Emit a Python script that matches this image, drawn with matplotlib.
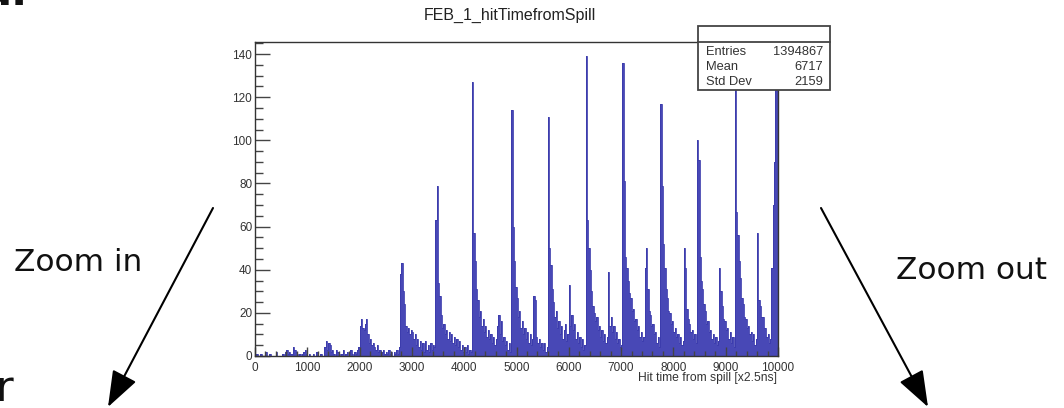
import matplotlib
matplotlib.use("Agg")
import matplotlib.pyplot as plt
import numpy as np
from matplotlib.patches import Rectangle, FancyArrowPatch
from matplotlib.lines import Line2D
from matplotlib.ticker import MultipleLocator

# ---------------- data ----------------
x_min, x_max = 0, 10000          # hit time range [x2.5ns]
title = "FEB_1_hitTimefromSpill"
x_title = "Hit time from spill [x2.5ns]"
stat_names = ["Entries", "Mean", "Std Dev"]
stat_values = ["1394867", "6717", "2159"]

# bin contents, 20 bins of width 25 per row (each row = 500 units)
counts_0000 = [0,1,0,0,1,0,0,0,2,0,0,1,0,0,0,0,2,0,0,0]
counts_0500 = [0,1,0,2,3,1,2,1,1,4,3,2,1,0,1,0,1,2,3,1]
counts_1000 = [0,1,0,0,1,0,0,2,0,0,1,0,0,4,7,3,6,5,2,3]
counts_1500 = [1,0,3,2,1,0,1,3,0,1,2,0,1,3,1,0,2,1,3,4]
counts_2000 = [14,17,13,12,15,17,10,6,8,5,6,4,3,5,2,3,1,2,3,1]
counts_2500 = [2,1,3,1,2,0,2,1,3,1,4,38,43,30,24,14,11,13,10,12]
counts_3000 = [11,8,10,5,8,4,7,3,6,2,7,3,5,2,6,3,5,4,63,79]
counts_3500 = [34,28,19,13,15,10,12,8,11,7,10,6,9,5,8,4,7,3,5,2]
counts_4000 = [4,2,5,1,3,2,127,57,44,31,26,18,21,14,17,11,14,9,12,8]
counts_4500 = [10,6,9,5,8,14,19,10,16,7,9,5,7,3,6,2,114,60,44,32]
counts_5000 = [27,18,21,13,16,10,13,8,11,6,10,5,8,28,26,9,6,8,4,6]
counts_5500 = [3,6,2,4,111,50,42,31,25,18,21,13,16,10,14,8,12,15,7,10]
counts_6000 = [33,14,19,12,15,8,11,6,9,4,8,3,5,139,63,50,40,30,23,20]
counts_6500 = [16,18,12,14,9,12,7,10,6,9,39,14,18,11,14,8,11,6,8,4]
counts_7000 = [5,136,81,46,41,35,29,27,21,22,16,17,12,14,9,11,7,9,41,50]
counts_7500 = [31,21,19,14,15,10,11,6,9,4,117,79,52,41,31,27,21,20,15,16]
counts_8000 = [11,13,9,10,6,9,5,7,50,41,22,17,15,11,12,8,10,6,100,91]
counts_8500 = [46,35,31,24,21,15,16,11,12,8,10,6,9,5,7,41,30,23,17,16]
counts_9000 = [12,13,8,11,6,9,4,130,67,56,44,36,27,24,18,17,13,14,10,11]
counts_9500 = [7,10,5,8,57,26,23,18,18,13,13,9,10,6,8,41,70,90,145,130]

counts = np.array(counts_0000 + counts_0500 + counts_1000 + counts_1500 +
                  counts_2000 + counts_2500 + counts_3000 + counts_3500 +
                  counts_4000 + counts_4500 + counts_5000 + counts_5500 +
                  counts_6000 + counts_6500 + counts_7000 + counts_7500 +
                  counts_8000 + counts_8500 + counts_9000 + counts_9500, float)
edges = np.linspace(x_min, x_max, len(counts) + 1)

# ---------------- figure ----------------
plt.rcParams["font.family"] = ["Liberation Sans", "DejaVu Sans"]
W, H = 1064, 408
fig = plt.figure(figsize=(W / 100, H / 100), dpi=100)

def fx(x):
    return x / W

def fy(y):
    return 1 - y / H

L, R, T, B = 255, 778, 42, 356
ax = fig.add_axes([fx(L), fy(B), (R - L) / W, (B - T) / H])

ax.stairs(counts, edges, fill=True, color="#4848b6", linewidth=0)
ax.stairs(counts, edges, color="#3a3aac", linewidth=0.6)

ax.set_xlim(x_min, x_max)
ax.set_ylim(0, 145.6)
ax.xaxis.set_major_locator(MultipleLocator(1000))
ax.xaxis.set_minor_locator(MultipleLocator(200))
ax.yaxis.set_major_locator(MultipleLocator(20))
ax.yaxis.set_minor_locator(MultipleLocator(5))
ax.tick_params(axis="y", which="major", direction="in", length=10.8, width=1.0,
               pad=2, labelsize=8.5, color="#444444", labelcolor="#333333")
ax.tick_params(axis="y", which="minor", direction="in", length=5.4, width=1.0,
               color="#444444")
ax.tick_params(axis="x", which="major", direction="in", length=6.5, width=1.0,
               pad=4, labelsize=8.5, color="#444444", labelcolor="#333333")
ax.tick_params(axis="x", which="minor", direction="in", length=3.3, width=1.0,
               color="#444444")
for s in ax.spines.values():
    s.set_color("#333333")
    s.set_linewidth(1.0)

fig.text(fx(777), fy(378), x_title, ha="right", va="center", fontsize=8.7,
         color="#333333")
fig.text(fx(510), fy(15), title, ha="center", va="center", fontsize=11.5,
         color="#222222")

# stats box
bx0, by0, bx1, by1, bdiv = 698, 26, 830, 90, 41.7
fig.add_artist(Rectangle((fx(bx0), fy(by1)), (bx1 - bx0) / W, (by1 - by0) / H,
                         transform=fig.transFigure, facecolor="white",
                         edgecolor="#444444", linewidth=1.3, zorder=10))
fig.add_artist(Line2D([fx(bx0), fx(bx1)], [fy(bdiv), fy(bdiv)],
                      transform=fig.transFigure, color="#444444", linewidth=1.3,
                      zorder=11))
for i, (n, v) in enumerate(zip(stat_names, stat_values)):
    yy = 52 + i * 15
    fig.text(fx(706), fy(yy), n, ha="left", va="center", fontsize=9.3,
             color="#333333", zorder=12)
    fig.text(fx(823), fy(yy), v, ha="right", va="center", fontsize=9.3,
             color="#333333", zorder=12)

# annotations around the plot
fig.text(fx(14), fy(271), "Zoom in", ha="left", va="baseline", fontsize=22.5,
         family="DejaVu Sans", color="#111111")
fig.text(fx(896), fy(279), "Zoom out", ha="left", va="baseline", fontsize=22.5,
         family="DejaVu Sans", color="#111111")
fig.text(fx(-5), fy(401), "r", ha="left", va="baseline", fontsize=31,
         family="DejaVu Sans", color="#111111")
fig.text(fx(-18), fy(6), "a.", ha="left", va="baseline", fontsize=31,
         family="DejaVu Sans", fontweight="bold", color="#111111")

for (x0, y0), (x1, y1) in [((213, 208), (108, 407)), ((821, 208), (928, 407))]:
    arr = FancyArrowPatch((fx(x0), fy(y0)), (fx(x1), fy(y1)),
                          transform=fig.transFigure,
                          arrowstyle="-|>,head_length=1.5,head_width=0.55",
                          mutation_scale=15, linewidth=1.5, color="black",
                          shrinkA=0, shrinkB=0, zorder=5)
    fig.add_artist(arr)

fig.savefig("out.png", dpi=100)
